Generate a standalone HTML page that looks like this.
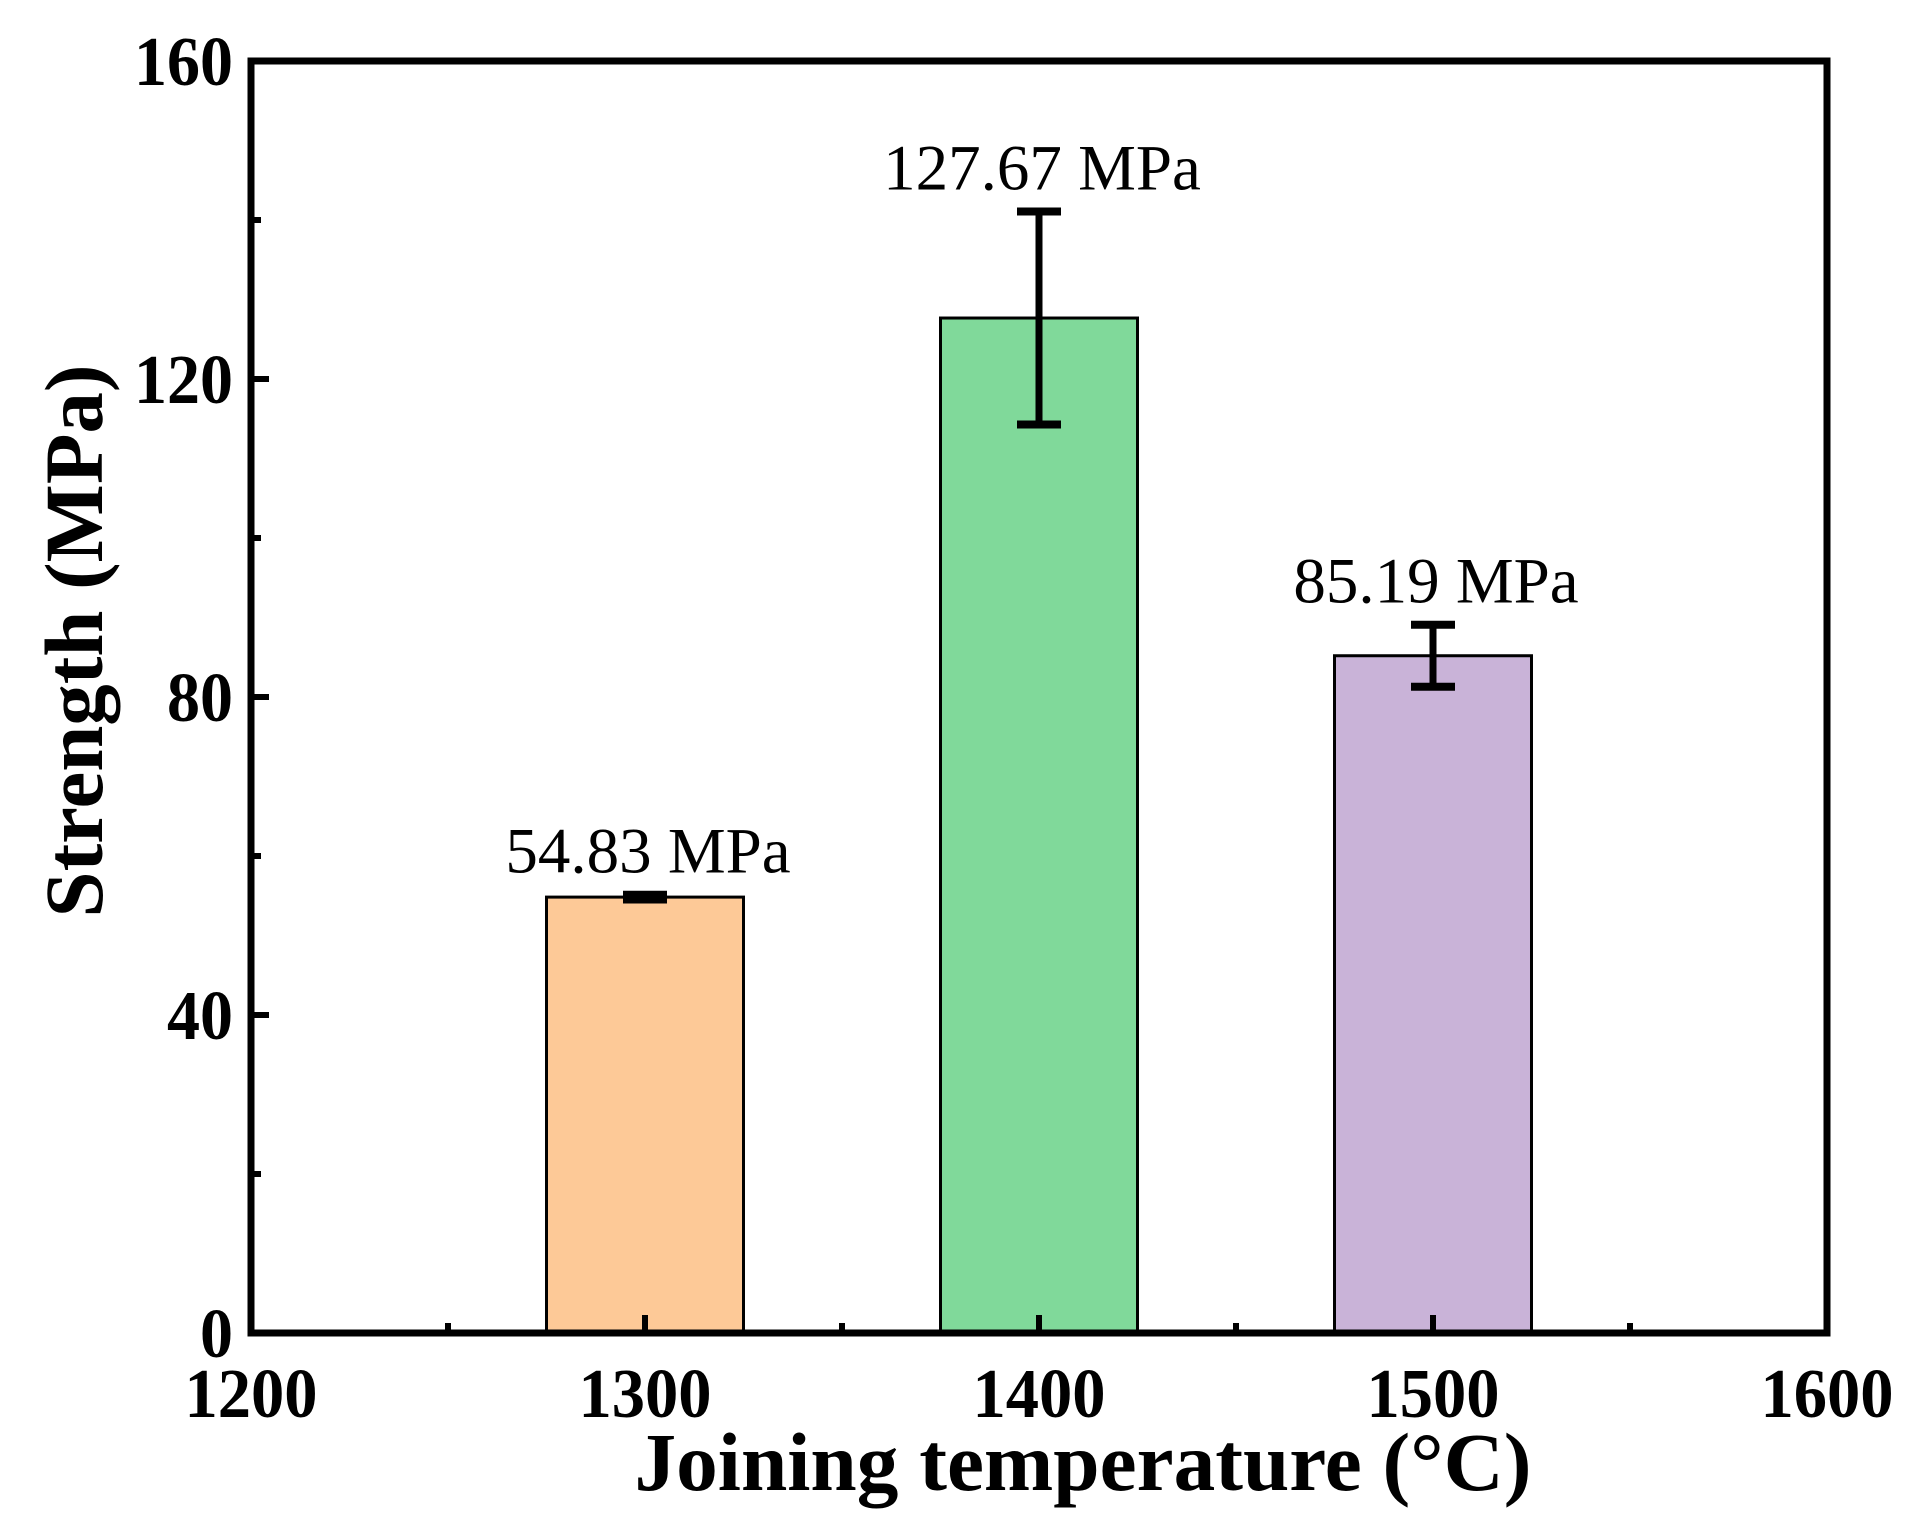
<!DOCTYPE html>
<html><head><meta charset="utf-8"><style>
html,body{margin:0;padding:0;background:#fff;}
svg{display:block;}
text{font-family:"Liberation Serif","Times New Roman",serif;fill:#000;}
</style></head><body>
<svg id="chart" width="1920" height="1539" viewBox="0 0 1920 1539" xmlns="http://www.w3.org/2000/svg">
<g id="bars"></g>
<g id="errs"></g>
<g id="labels"></g>
<g id="axes"></g>
<text x="1083" y="1490" text-anchor="middle" font-weight="bold" font-size="83" textLength="897" lengthAdjust="spacingAndGlyphs">Joining temperature (°C)</text>
<text transform="translate(102,641) rotate(-90)" text-anchor="middle" font-weight="bold" font-size="83" textLength="553" lengthAdjust="spacingAndGlyphs">Strength (MPa)</text>
</svg>
<script>
const categories = [1300, 1400, 1500];
const strengths = [54.83, 127.67, 85.19];
const errors = [0.3, 13.4, 3.9];
const valueLabels = ["54.83 MPa", "127.67 MPa", "85.19 MPa"];
const barColors = ["#FDC997", "#80D99A", "#C9B3D8"];
const xTicks = [1200, 1300, 1400, 1500, 1600];
const xMinorTicks = [1250, 1350, 1450, 1550];
const yTicks = [0, 40, 80, 120, 160];
const yMinorTicks = [20, 60, 100, 140];
const barWidthUnits = 50;

const X0=251, X1=1827, Y0=1333, Y1=61;
const x = v => X0 + (v-1200)/(400)*(X1-X0);
const y = v => Y0 - v/160*(Y0-Y1);
const NS="http://www.w3.org/2000/svg";
function mk(tag, attrs, parent){const e=document.createElementNS(NS,tag);for(const k in attrs)e.setAttribute(k,attrs[k]);parent.appendChild(e);return e;}
const gb=document.getElementById('bars'), ge=document.getElementById('errs'), gl=document.getElementById('labels'), ga=document.getElementById('axes');

categories.forEach((c,i)=>{
  const bw = x(c+barWidthUnits/2)-x(c-barWidthUnits/2);
  const r = mk('rect',{x:x(c)-bw/2,y:y(strengths[i]),width:bw,height:Y0-y(strengths[i]),fill:barColors[i],stroke:'#000','stroke-width':3},gb);
  
  
  const top=y(strengths[i]+errors[i]), bot=y(strengths[i]-errors[i]);
  const eg=mk('g',{},ge);
  
  
  mk('line',{x1:x(c),x2:x(c),y1:top,y2:bot,stroke:'#000','stroke-width':7},eg);
  mk('line',{x1:x(c)-22,x2:x(c)+22,y1:top,y2:top,stroke:'#000','stroke-width':8},eg);
  mk('line',{x1:x(c)-22,x2:x(c)+22,y1:bot,y2:bot,stroke:'#000','stroke-width':8},eg);
  const t=mk('text',{x:x(c)+3,y:top-22,'text-anchor':'middle','font-size':65},gl);
  t.textContent=valueLabels[i];
  
  
});

const fr=mk('rect',{x:X0,y:Y1,width:X1-X0,height:Y0-Y1,fill:'none',stroke:'#000','stroke-width':7},ga);


xTicks.forEach(v=>{
  mk('line',{x1:x(v),x2:x(v),y1:Y0,y2:Y0-18,stroke:'#000','stroke-width':6},ga);
  const t=mk('text',{x:x(v),y:1417,'text-anchor':'middle','font-size':70,'font-weight':'bold',textLength:133,lengthAdjust:'spacingAndGlyphs'},ga);
  t.textContent=v;
  
  
});
xMinorTicks.forEach(v=>{mk('line',{x1:x(v),x2:x(v),y1:Y0,y2:Y0-10,stroke:'#000','stroke-width':6},ga);});
yTicks.forEach(v=>{
  const s=String(v);
  mk('line',{x1:X0,x2:X0+18,y1:y(v),y2:y(v),stroke:'#000','stroke-width':6},ga);
  const t=mk('text',{x:233,y:y(v)+24,'text-anchor':'end','font-size':70,'font-weight':'bold',textLength:33*s.length,lengthAdjust:'spacingAndGlyphs'},ga);
  t.textContent=s;
  
  
});
yMinorTicks.forEach(v=>{mk('line',{x1:X0,x2:X0+10,y1:y(v),y2:y(v),stroke:'#000','stroke-width':6},ga);});
</script>
</body></html>
